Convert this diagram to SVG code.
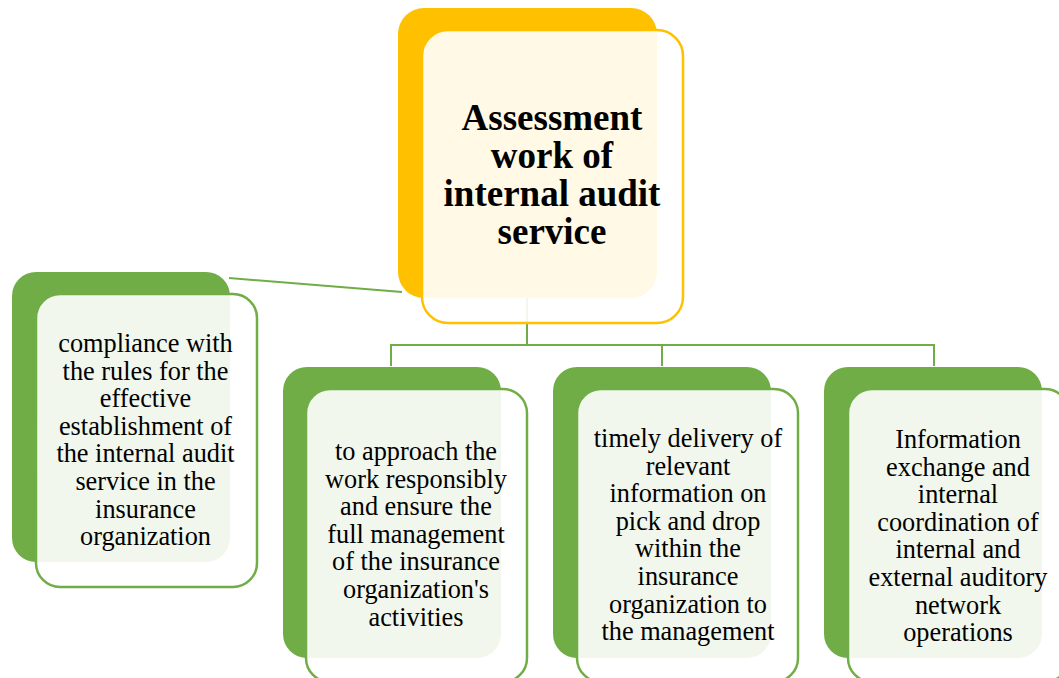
<svg xmlns="http://www.w3.org/2000/svg" width="1059" height="678" viewBox="0 0 1059 678">
<style>
.bg{fill:#fff}
.by{fill:#FFC000}
.fy{fill:#fff;fill-opacity:0.9;stroke:#FFC000;stroke-width:2.5}
.bgr{fill:#70AD47}
.fg{fill:#fff;fill-opacity:0.9;stroke:#70AD47;stroke-width:2.5}
.conn{fill:none;stroke:#70AD47;stroke-width:2}
.t{font-family:'Liberation Serif','Times New Roman',serif;font-size:26.3px;fill:#000;text-anchor:middle}
.title{font-family:'Liberation Serif','Times New Roman',serif;font-size:37px;font-weight:bold;fill:#000;text-anchor:middle}
</style>
<rect class="bg" x="0" y="0" width="1059" height="678"/>
<g id="connectors">
<line class="conn" x1="229" y1="278" x2="402" y2="292"/>
<polyline class="conn" points="527,298 527,345"/>
<polyline class="conn" points="391,366 391,345 934,345 934,366"/>
<line class="conn" x1="662" y1="345" x2="662" y2="366"/>
</g>
<g id="node-top">
<rect class="by" x="398" y="8" width="259" height="290" rx="26"/>
<rect class="fy" x="422" y="30" width="261" height="293" rx="26"/>
<text class="title" x="552" y="130">Assessment</text>
<text class="title" x="552" y="168">work of</text>
<text class="title" x="552" y="206">internal audit</text>
<text class="title" x="552" y="244">service</text>
</g>
<g id="node-left">
<rect class="bgr" x="12" y="272" width="218" height="290" rx="24"/>
<rect class="fg" x="36" y="294" width="221" height="293" rx="24"/>
<text class="t" x="145.5" y="352">compliance with</text>
<text class="t" x="145.5" y="379.6">the rules for the</text>
<text class="t" x="145.5" y="407.2">effective</text>
<text class="t" x="145.5" y="434.8">establishment of</text>
<text class="t" x="145.5" y="462.2">the internal audit</text>
<text class="t" x="145.5" y="490">service in the</text>
<text class="t" x="145.5" y="517.6">insurance</text>
<text class="t" x="145.5" y="545.2">organization</text>
</g>
<g id="node-2">
<rect class="bgr" x="283" y="367" width="218" height="291" rx="24"/>
<rect class="fg" x="306" y="389" width="221" height="293" rx="24"/>
<text class="t" x="416" y="460">to approach the</text>
<text class="t" x="416" y="487.6">work responsibly</text>
<text class="t" x="416" y="515.2">and ensure the</text>
<text class="t" x="416" y="542.8">full management</text>
<text class="t" x="416" y="570.4">of the insurance</text>
<text class="t" x="416" y="598">organization's</text>
<text class="t" x="416" y="625.6">activities</text>
</g>
<g id="node-3">
<rect class="bgr" x="553" y="367" width="218" height="291" rx="24"/>
<rect class="fg" x="577" y="389" width="221" height="293" rx="24"/>
<text class="t" x="688" y="447">timely delivery of</text>
<text class="t" x="688" y="474.6">relevant</text>
<text class="t" x="688" y="502.2">information on</text>
<text class="t" x="688" y="529.8">pick and drop</text>
<text class="t" x="688" y="557.4">within the</text>
<text class="t" x="688" y="585">insurance</text>
<text class="t" x="688" y="612.6">organization to</text>
<text class="t" x="688" y="640.2">the management</text>
</g>
<g id="node-4">
<rect class="bgr" x="824" y="367" width="218" height="291" rx="24"/>
<rect class="fg" x="848" y="389" width="221" height="293" rx="24"/>
<text class="t" x="958" y="448">Information</text>
<text class="t" x="958" y="475.6">exchange and</text>
<text class="t" x="958" y="503.2">internal</text>
<text class="t" x="958" y="530.8">coordination of</text>
<text class="t" x="958" y="558.4">internal and</text>
<text class="t" x="958" y="586.2">external auditory</text>
<text class="t" x="958" y="613.6">network</text>
<text class="t" x="958" y="641.2">operations</text>
</g>
</svg>
